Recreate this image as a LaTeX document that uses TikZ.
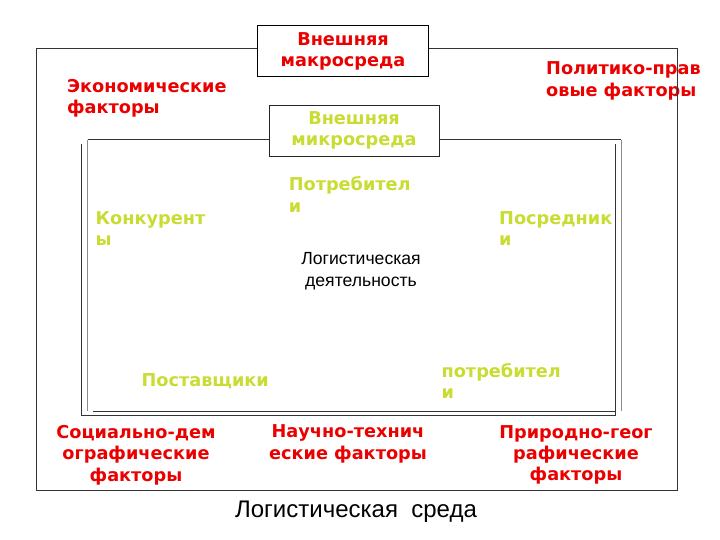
\documentclass[tikz,border=0pt]{standalone}
\usepackage{fontspec}
\setmainfont{Liberation Sans}
\newfontfamily\boldsans{DejaVu Sans}
\usetikzlibrary{positioning}

\definecolor{factred}{RGB}{235,0,0}
\definecolor{microgreen}{RGB}{200,220,50}

\tikzset{
  factor/.style={font=\boldsans\bfseries\fontsize{17.7}{21.3}\selectfont,text=factred,inner sep=0pt},
  actor/.style={font=\boldsans\bfseries\fontsize{17.7}{21.3}\selectfont,text=microgreen,inner sep=0pt,align=left},
  plain/.style={font=\fontsize{17.6}{21.7}\selectfont,text=black,inner sep=0pt,align=center},
  envbox/.style={draw=black,fill=white,inner sep=0pt,align=center},
  frame/.style={draw=black!80,line width=0.9pt}
}

\begin{document}
\begin{tikzpicture}[x=1pt,y=-1pt]
\useasboundingbox (0,0) rectangle (720,540);

% Outer factors of the macro environment
\node[factor,align=left,anchor=west] (econ) at (66.9,98.5) {Экономические\\факторы};
\node[factor,align=left,anchor=west] (polit) at (546,81) {Политико-прав\\овые факторы};
\node[factor,align=center] (soc) at (136,455) {Социально-дем\\ографические\\факторы};
\node[factor,align=center] (sci) at (348,444) {Научно-технич\\еские факторы};
\node[factor,align=center] (nat) at (576,455) {Природно-геог\\рафические\\факторы};

% Macro environment frame
\draw[frame] (36.5,48.3) rectangle (677.5,490.7);

% Micro environment double frame
\draw[frame] (87.5,139.7) -- (621,139.7);
\draw[draw=black!45,line width=1pt] (87.7,139.7) -- (87.7,411);
\draw[draw=black!45,line width=1pt] (621,139.7) -- (621,411);
\draw[frame] (93,411) -- (615,411);
\draw[frame] (81.7,144) -- (81.7,415.7) -- (615,415.7) -- (615,144);

% Titles of the two environments
\node[envbox,line width=1.3pt,minimum width=171pt,minimum height=51pt,
      factor,align=center] (macro) at (343,51.2) {Внешняя\\макросреда};
\node[envbox,draw=black!85,line width=0.8pt,minimum width=170pt,minimum height=51pt,
      actor,align=center] (micro) at (354,130.5) {Внешняя\\микросреда};

% Actors of the micro environment
\node[actor,anchor=west] (cons) at (288.6,194.5) {Потребител\\и};
\node[actor,anchor=west] (comp) at (95.5,228.7) {Конкурент\\ы};
\node[actor,anchor=west] (inter) at (499,228.7) {Посредник\\и};
\node[actor,anchor=west] (suppl) at (141.4,381.7) {Поставщики};
\node[actor,anchor=west] (cust) at (441.4,381.2) {потребител\\и};

\node[plain] (logact) at (361,271) {Логистическая\\деятельность};

\node[plain,font=\fontsize{24}{28}\selectfont] (title) at (356,511.7) {Логистическая\ \ среда};
\end{tikzpicture}
\end{document}
